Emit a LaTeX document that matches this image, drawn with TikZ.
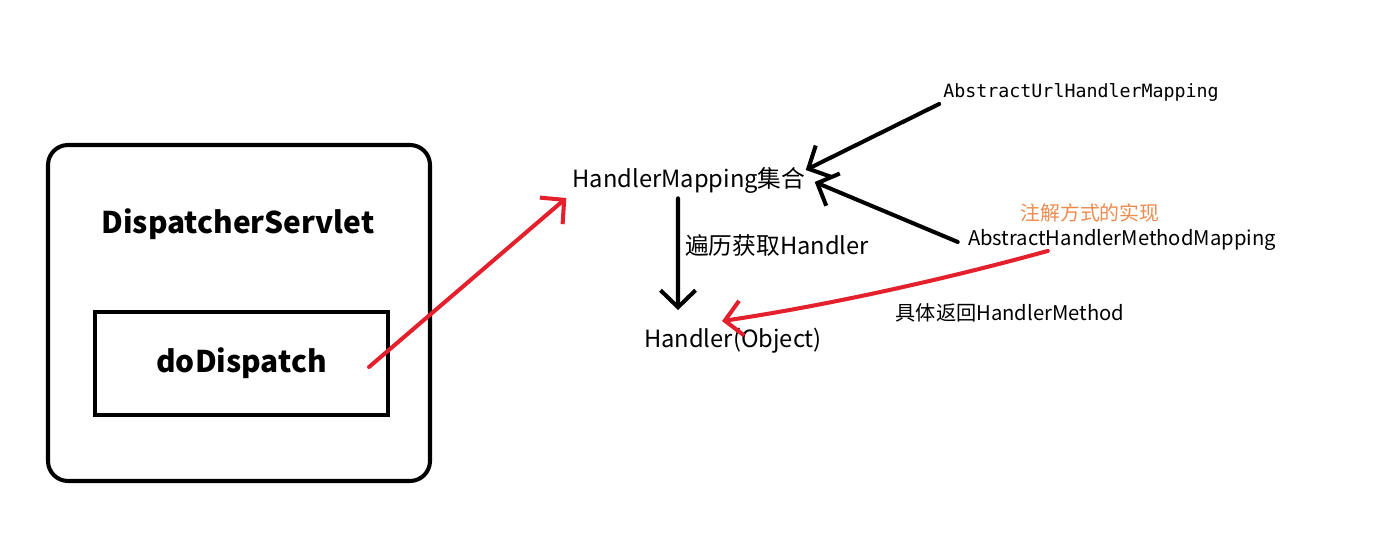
\documentclass[tikz,border=0pt]{standalone}
\usepackage{fontspec}
\setmainfont{Noto Sans CJK SC}
\setmonofont{DejaVu Sans Mono}
\usetikzlibrary{arrows.meta}
\definecolor{penred}{RGB}{228,32,44}
\definecolor{noteorange}{RGB}{238,138,78}

\begin{document}
\begin{tikzpicture}[x=1cm,y=1cm]
\tikzset{
  outerbox/.style={draw=black,line width=2.3pt,rounded corners=0.4cm,minimum width=7.64cm,minimum height=6.72cm},
  innerbox/.style={draw=black,line width=2.3pt,minimum width=5.86cm,minimum height=2.06cm,font=\bfseries\fontsize{17}{20}\selectfont},
  lbl/.style={inner sep=0pt,font=\fontsize{13.5}{16}\selectfont},
  smalllbl/.style={inner sep=0pt,font=\fontsize{11.5}{14}\selectfont},
  penline/.style={line width=2.3pt,line cap=round,line join=round},
  blackarrow/.style={penline,draw=black,-{Straight Barb[length=3.4mm,width=7mm,line width=2.3pt]}},
  redarrow/.style={penline,draw=penred,-{Straight Barb[length=3.4mm,width=7mm,line width=2.3pt]}}
}
\useasboundingbox (0,0) rectangle (27.78,-10.98);
\node[outerbox] (n_ds) at (4.78,-6.26) {};
\node[inner sep=0pt,font=\bfseries\fontsize{17}{20}\selectfont] (n_title) at (4.76,-4.48) {DispatcherServlet};
\node[innerbox] (n_dd) at (4.83,-7.27) {doDispatch};
\node[lbl] (n_hm) at (13.78,-3.60) {HandlerMapping集合};
\node[inner sep=0pt,font=\ttfamily\fontsize{10.4}{12}\selectfont] (n_url) at (21.62,-1.84) {AbstractUrlHandlerMapping};
\node[inner sep=0pt,font=\fontsize{11.3}{13}\selectfont,text=noteorange] (n_anno) at (21.80,-4.26) {注解方式的实现};
\node[smalllbl] (n_ahm) at (22.44,-4.80) {AbstractHandlerMethodMapping};
\node[lbl] (n_trav) at (15.54,-4.90) {遍历获取Handler};
\node[lbl] (n_h) at (14.66,-6.82) {Handler(Object)};
\node[smalllbl] (n_ret) at (20.20,-6.26) {具体返回HandlerMethod};
\draw[redarrow] ([xshift=-0.42cm,yshift=-0.07cm]n_dd.east) -- ([shift={(-0.12cm,-0.36cm)}]n_hm.west);
\draw[blackarrow] ([shift={(-0.08cm,-0.24cm)}]n_url.west) -- ([yshift=0.2cm]n_hm.east);
\draw[blackarrow] ([shift={(-0.2cm,-0.04cm)}]n_ahm.west) -- ([shift={(0.18cm,-0.04cm)}]n_hm.east);
\draw[blackarrow] ([shift={(-0.22cm,-0.1cm)}]n_hm.south) -- ([shift={(-1.1cm,0.36cm)}]n_h.north);
\draw[redarrow] ([xshift=1.6cm]n_ahm.south west) .. controls (19.00,-5.56) and (16.60,-6.10) .. ([shift={(-0.22cm,0.14cm)}]n_h.north);
\end{tikzpicture}
\end{document}
